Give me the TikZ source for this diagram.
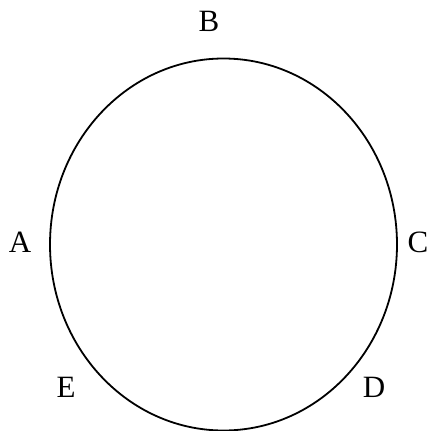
\documentclass[tikz,border=0pt]{standalone}
\usepackage{fontspec}
\setmainfont{Liberation Serif}
\usepackage{tikz}
\usetikzlibrary{positioning}

\tikzset{lbl/.style={inner sep=0pt, font=\fontsize{31}{36}\selectfont}}

\begin{document}
\begin{tikzpicture}[x=1pt,y=-1pt]
\useasboundingbox (0,0) rectangle (430,431);
\draw[line width=1.8pt] (223.5,244.5) ellipse [x radius=173.5pt, y radius=186pt];

\node[lbl] (B) at (209,21) {B};
\node[lbl] (A) at (20,242) {A};
\node[lbl] (C) at (418,242) {C};
\node[lbl] (D) at (374,387) {D};
\node[lbl] (E) at (66,387) {E};
\end{tikzpicture}
\end{document}
